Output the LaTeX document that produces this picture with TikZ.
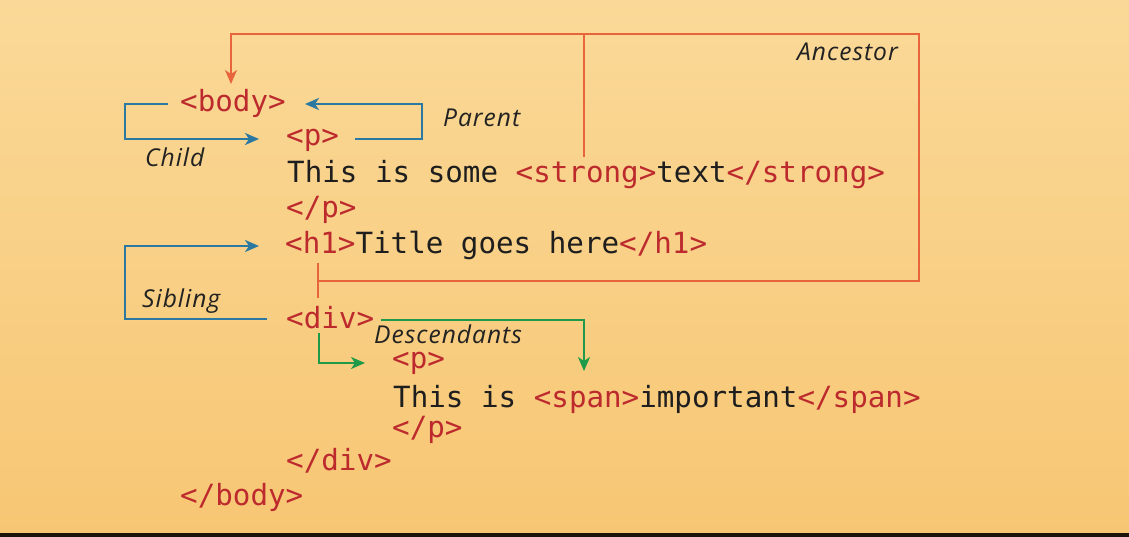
\documentclass[tikz,border=0pt]{standalone}
\usepackage{fontspec}
\newfontfamily\codefont{DejaVu Sans Mono}
\newfontfamily\labfont{Open Sans}[LetterSpace=4]
\usetikzlibrary{arrows.meta}
\definecolor{tagred}{HTML}{BC2A2E}
\definecolor{codeblack}{HTML}{1E1E1E}
\definecolor{labblack}{HTML}{222222}
\definecolor{relblue}{HTML}{2B79A0}
\definecolor{ancorange}{HTML}{E8653C}
\definecolor{descgreen}{HTML}{1E9A48}
\definecolor{bgtop}{HTML}{FAD998}
\definecolor{bgbot}{HTML}{F7C673}
\newcommand\tg[1]{\textcolor{tagred}{#1}}
\tikzset{
  code/.style={anchor=base west, inner sep=0pt, text=codeblack,
    font=\codefont\fontsize{29.2}{32}\selectfont},
  lab/.style={anchor=base west, inner sep=0pt, text=labblack,
    font=\labfont\itshape\fontsize{24.6}{28}\selectfont},
  tip/.style={-{Stealth[length=14pt,width=12pt,inset=4pt]}},
  bluerel/.style={draw=relblue, line width=2.2pt},
  ancline/.style={draw=ancorange, line width=1.8pt},
  descline/.style={draw=descgreen, line width=1.8pt},
}
\begin{document}
\begin{tikzpicture}[x=1pt,y=-1pt]
\shade[top color=bgtop, bottom color=bgbot] (0,0) rectangle (1129,537);
\useasboundingbox (0,0) rectangle (1129,537);
\fill[black!85!brown] (0,533) rectangle (1129,537);

% code lines
\node[code] (body)   at (180,112) {\tg{<body>}};
\node[code] (p1)     at (286,146) {\tg{<p>}};
\node[code] (text1)  at (287,183) {This is some \tg{<strong>}text\tg{</strong>}};
\node[code] (p1c)    at (286,218) {\tg{</p>}};
\node[code] (h1)     at (285,254) {\tg{<h1>}Title goes here\tg{</h1>}};
\node[code] (div)    at (286,328) {\tg{<div>}};
\node[code, text height=16pt] (p2) at (392,368) {\tg{<p>}};
\node[code] (text2)  at (393,407) {This is \tg{<span>}important\tg{</span>}};
\node[code] (p2c)    at (392,437) {\tg{</p>}};
\node[code] (divc)   at (286,470) {\tg{</div>}};
\node[code] (bodyc)  at (180,505) {\tg{</body>}};

% labels
\node[lab] (lanc)  at (797,61)  {Ancestor};
\node[lab] (lpar)  at (443,127) {Parent};
\node[lab] (lchi)  at (145,167) {Child};
\node[lab] (lsib)  at (142,307) {Sibling};
\node[lab, text depth=0pt] (ldes) at (374,343) {Descendants};

% coordinates
\coordinate (chS) at (168,104);
\coordinate (chA) at (125,104);
\coordinate (chB) at (125,139);
\coordinate (chE) at (259,139);
\coordinate (paS) at (355,139);
\coordinate (paA) at (422,139);
\coordinate (paB) at (422,104);
\coordinate (paE) at (305,104);
\coordinate (siS) at (267,319);
\coordinate (siA) at (125,319);
\coordinate (siB) at (125,246);
\coordinate (siE) at (259,246);
\coordinate (anT) at (318,263);
\coordinate (anM) at (318,281);
\coordinate (anD) at (318,298);
\coordinate (anR) at (919,281);
\coordinate (anRT) at (919,34);
\coordinate (anLT) at (231,34);
\coordinate (anE) at (231,84);
\coordinate (stS) at (584,157);
\coordinate (stT) at (584,34);
\coordinate (deS) at (381,320);
\coordinate (deA) at (584,320);
\coordinate (deE) at (584,371);
\coordinate (dpS) at (319,333);
\coordinate (dpA) at (319,363);
\coordinate (dpE) at (365,363);

% child / parent / sibling
\draw[bluerel, tip] (chS) -- (chA) -- (chB) -- (chE);
\draw[bluerel, tip] (paS) -- (paA) -- (paB) -- (paE);
\draw[bluerel, tip] (siS) -- (siA) -- (siB) -- (siE);

% ancestor
\draw[ancline] (anT) -- (anD);
\draw[ancline, tip] (anM) -- (anR) -- (anRT) -- (anLT) -- (anE);
\draw[ancline] (stS) -- (stT);

% descendants
\draw[descline, tip] (deS) -- (deA) -- (deE);
\draw[descline, tip] (dpS) -- (dpA) -- (dpE);
\end{tikzpicture}
\end{document}
